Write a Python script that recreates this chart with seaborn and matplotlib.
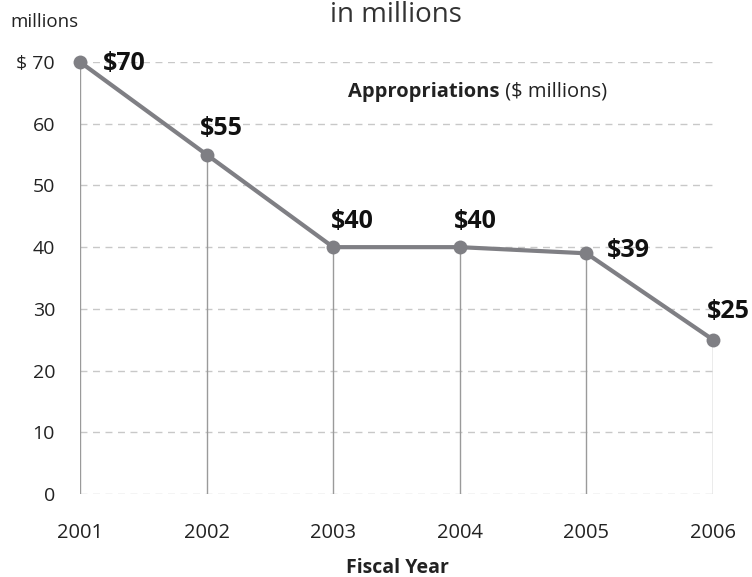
import matplotlib
matplotlib.use("Agg")
import matplotlib.pyplot as plt
from matplotlib import font_manager as fm
import seaborn as sns
import pandas as pd

years = [2001, 2002, 2003, 2004, 2005, 2006]
values = [70, 55, 40, 40, 39, 25]
labels = ["$70", "$55", "$40", "$40", "$39", "$25"]
yticks = [0, 10, 20, 30, 40, 50, 60, 70]
ytick_labels = ["0", "10", "20", "30", "40", "50", "60", "$ 70"]

sns.set_style("white")
plt.rcParams['font.family'] = ['Open Sans', 'DejaVu Sans']


def find_font(name, weight):
    for f in fm.fontManager.ttflist:
        if f.name == name and f.weight == weight and f.stretch == "normal" and f.style == "normal":
            return f.fname
    return None


bold_file = find_font("Open Sans", 700)
reg_file = find_font("Open Sans", 400)


def fp(size, bold=False):
    fn = bold_file if bold else reg_file
    if fn:
        return fm.FontProperties(fname=fn, size=size)
    return fm.FontProperties(family="DejaVu Sans", size=size, weight="bold" if bold else "normal")


df = pd.DataFrame({"year": years, "value": values})

fig = plt.figure(figsize=(7.52, 5.77), dpi=100)
ax = fig.add_axes([80/752, 83/577, (713-80)/752, (494-62)/577])

for y in yticks:
    ax.axhline(y, color="#c8c8c8", lw=1, ls=(0, (5, 4)), zorder=0)
for x, v in zip(years, values):
    ax.plot([x, x], [0, v], color="#9a9a9a", lw=1, zorder=1)

sns.lineplot(data=df, x="year", y="value", ax=ax, color="#7f7f84", lw=3,
             marker="o", markersize=10, markeredgewidth=0, zorder=3, clip_on=False)

# value labels (offsets in pixels)
offsets = [(23, -2), (-7, 26), (-2, 26), (-6, 26), (20, 3), (-6, 28)]
for x, v, lab, (dx, dy) in zip(years, values, labels, offsets):
    ax.annotate(lab, (x, v), xytext=(dx * 0.72, dy * 0.72), textcoords="offset points",
                ha="left", va="center", fontproperties=fp(18, True),
                color="#111111", zorder=4, annotation_clip=False)

ax.set_xlim(2001, 2006)
ax.set_ylim(0, 70)
ax.set_xticks(years)
ax.set_xticklabels([str(y) for y in years], fontproperties=fp(14.5))
ax.set_yticks(yticks)
ax.set_yticklabels(ytick_labels, fontproperties=fp(14))
ax.tick_params(axis="both", length=0, colors="#222222")
ax.tick_params(axis="x", pad=21)
ax.tick_params(axis="y", pad=18)
for s in ax.spines.values():
    s.set_visible(False)
ax.set_xlabel("")
ax.set_ylabel("")

fig.text(397/752, 1 - 573/577, "Fiscal Year", ha="center", va="baseline",
         fontproperties=fp(14, True), color="#222222")
fig.text(10/752, 1 - 27/577, "millions", ha="left", va="baseline",
         fontproperties=fp(13.5), color="#222222")
fig.text(396/752, 1 - 22/577, "in millions", ha="center", va="baseline",
         fontproperties=fp(20), color="#333333")
t1 = fig.text(348/752, 1 - 92/577, "Appropriations", ha="left", va="center",
              fontproperties=fp(14.5, True), color="#222222")
fig.canvas.draw()
bb = t1.get_window_extent()
fig.text(bb.x1 / fig.bbox.width, 1 - 92/577, " ($ millions)", ha="left", va="center",
         fontproperties=fp(14.5), color="#222222")

fig.savefig("out.png", dpi=100)
